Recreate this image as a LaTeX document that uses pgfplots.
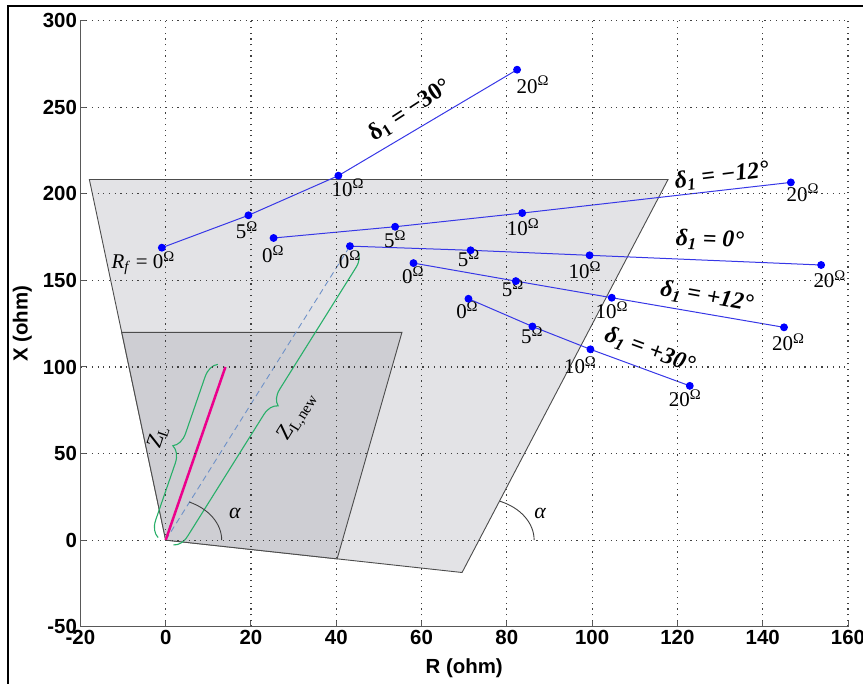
\documentclass[border=0pt]{standalone}
\usepackage{pgfplots}
\pgfplotsset{compat=1.18}
\usepackage{fontspec}
\setmainfont{Liberation Sans}
\newfontfamily\tnr{Liberation Serif}
\usetikzlibrary{decorations.pathreplacing}
\definecolor{lightfill}{RGB}{227,227,230}
\definecolor{darkfill}{RGB}{206,206,211}
\definecolor{lineblue}{RGB}{55,55,230}
\definecolor{bracegreen}{RGB}{40,175,105}
\definecolor{dashblue}{RGB}{110,145,200}
\newcommand\olab{\fontsize{21}{22}\selectfont\tnr}
\newcommand\dlab{\fontsize{24}{26}\selectfont\tnr\bfseries\itshape}
\begin{document}
\begin{tikzpicture}
\useasboundingbox (0,0) rectangle (863bp,684bp);
\begin{axis}[
  at={(80.4bp,57.3bp)}, anchor=south west,
  scale only axis, width=767.6bp, height=606bp,
  xmin=-20, xmax=160, ymin=-50, ymax=300,
  xtick={-20,0,...,160}, ytick={-50,0,...,300},
  axis x line=bottom, axis y line=left,
  axis line style={-, black!65, line width=1.1bp},
  tick align=inside, major tick length=6bp,
  tick style={black!65, line width=1bp},
  grid=major,
  major grid style={black!75, line width=1.2bp, dash pattern=on 1.2bp off 4.5bp},
  ticklabel style={font=\fontsize{20.5}{22}\selectfont\bfseries},
  /pgf/number format/assume math mode=true,
  xlabel={R (ohm)}, ylabel={X (ohm)},
  label style={font=\fontsize{20.5}{22}\selectfont\bfseries},
  xlabel style={at={(axis description cs:0.5,-0.0685)}, anchor=center},
  ylabel style={at={(axis description cs:-0.0756,0.5)}, anchor=center},
  axis on top,
  clip=false,
]
% characteristic areas
\addplot[fill=lightfill, draw=black!70, line width=0.9bp] coordinates {(0,0) (-17.9,208.3) (117.8,208.3) (69.5,-18.7)} --cycle;
\addplot[fill=darkfill, draw=black!70, line width=0.9bp] coordinates {(0,0) (-10.3,120) (55.4,120) (40.2,-10.82)} --cycle;
% Z_L lines
\addplot[dashblue, dash pattern=on 6bp off 4bp, line width=0.9bp] coordinates {(0,0) (43.2,169.8)};
\addplot[magenta, line width=2.5bp] coordinates {(0,0) (14,100)};
% trajectories
\addplot[lineblue, line width=1bp, mark=*, mark size=3.4bp, mark options={fill=blue, draw=blue}] coordinates {(-0.9,168.9) (19.4,187.6) (40.5,210.5) (82.4,271.7)};
\addplot[lineblue, line width=1bp, mark=*, mark size=3.4bp, mark options={fill=blue, draw=blue}] coordinates {(25.3,174.5) (53.8,181.0) (83.6,188.9) (146.6,206.6)};
\addplot[lineblue, line width=1bp, mark=*, mark size=3.4bp, mark options={fill=blue, draw=blue}] coordinates {(43.2,169.8) (71.5,167.4) (99.4,164.5) (153.7,158.9)};
\addplot[lineblue, line width=1bp, mark=*, mark size=3.4bp, mark options={fill=blue, draw=blue}] coordinates {(58.1,160.0) (82.1,149.6) (104.6,140.0) (145.0,122.9)};
\addplot[lineblue, line width=1bp, mark=*, mark size=3.4bp, mark options={fill=blue, draw=blue}] coordinates {(71.0,139.4) (86.0,123.4) (99.6,110.2) (122.9,89.1)};
% braces
\draw[bracegreen, line width=1.1bp, decorate, decoration={brace, amplitude=16bp, raise=8bp}] (axis cs:0,0) -- (axis cs:14,100);
\draw[bracegreen, line width=1.1bp, decorate, decoration={brace, amplitude=15bp, raise=9bp}] (axis cs:43.2,169.8) -- (axis cs:0,0);
% angle arcs
\draw[black!75, line width=0.9bp] (axis cs:0,0) ++(65:56bp and 42bp) arc[start angle=65, end angle=0, x radius=56bp, y radius=42bp];
\draw[black!75, line width=0.9bp] (axis cs:73.5,0) ++(68:55bp and 42bp) arc[start angle=68, end angle=0, x radius=55bp, y radius=42bp];
\node[font=\fontsize{22}{24}\selectfont\tnr\itshape] at (axis cs:16.2,15.6) {α};
\node[font=\fontsize{22}{24}\selectfont\tnr\itshape] at (axis cs:87.8,15.6) {α};
\node[font=\fontsize{22}{24}\selectfont\tnr, rotate=71] at (axis cs:-1.8,59.5) {Z\textsubscript{L}};
\node[font=\fontsize{22}{24}\selectfont\tnr, rotate=58] at (axis cs:31.0,71.0) {Z\textsubscript{L,new}};
% resistance labels
\node[font=\olab] at (axis cs:-5.3,160.0) {\textit{R}\textsubscript{\textit{f}} = 0\textsuperscript{Ω}};
\node[font=\olab] at (axis cs:19.0,179.1) {5\textsuperscript{Ω}};
\node[font=\olab] at (axis cs:42.7,203.4) {10\textsuperscript{Ω}};
\node[font=\olab] at (axis cs:86.1,262.9) {20\textsuperscript{Ω}};
\node[font=\olab] at (axis cs:25.2,165.2) {0\textsuperscript{Ω}};
\node[font=\olab] at (axis cs:53.8,173.9) {5\textsuperscript{Ω}};
\node[font=\olab] at (axis cs:83.8,180.8) {10\textsuperscript{Ω}};
\node[font=\olab] at (axis cs:149.4,200.5) {20\textsuperscript{Ω}};
\node[font=\olab] at (axis cs:43.2,161.8) {0\textsuperscript{Ω}};
\node[font=\olab] at (axis cs:71.1,162.9) {5\textsuperscript{Ω}};
\node[font=\olab] at (axis cs:98.3,156.0) {10\textsuperscript{Ω}};
\node[font=\olab] at (axis cs:155.7,150.8) {20\textsuperscript{Ω}};
\node[font=\olab] at (axis cs:58.0,153.1) {0\textsuperscript{Ω}};
\node[font=\olab] at (axis cs:81.4,145.6) {5\textsuperscript{Ω}};
\node[font=\olab] at (axis cs:104.6,132.9) {10\textsuperscript{Ω}};
\node[font=\olab] at (axis cs:146.0,114.4) {20\textsuperscript{Ω}};
\node[font=\olab] at (axis cs:70.7,132.9) {0\textsuperscript{Ω}};
\node[font=\olab] at (axis cs:85.9,118.4) {5\textsuperscript{Ω}};
\node[font=\olab] at (axis cs:97.2,101.1) {10\textsuperscript{Ω}};
\node[font=\olab] at (axis cs:121.8,82.0) {20\textsuperscript{Ω}};
% delta labels
\node[font=\fontsize{24}{26}\selectfont\tnr\bfseries, rotate=33] at (axis cs:57.3,248.4) {δ\textsubscript{1} = −30°};
\node[font=\dlab, rotate=7] at (axis cs:130.4,210.3) {δ\textsubscript{1} = −12°};
\node[font=\dlab, rotate=-2] at (axis cs:127.6,173.3) {δ\textsubscript{1} = 0°};
\node[font=\dlab, rotate=-10] at (axis cs:126.9,140.4) {δ\textsubscript{1} = +12°};
\node[font=\dlab, rotate=-20] at (axis cs:113.5,109.5) {δ\textsubscript{1} = +30°};
\end{axis}
\draw[line width=2.6bp] (8bp,-10bp) rectangle (900bp,678bp);
\end{tikzpicture}
\end{document}
